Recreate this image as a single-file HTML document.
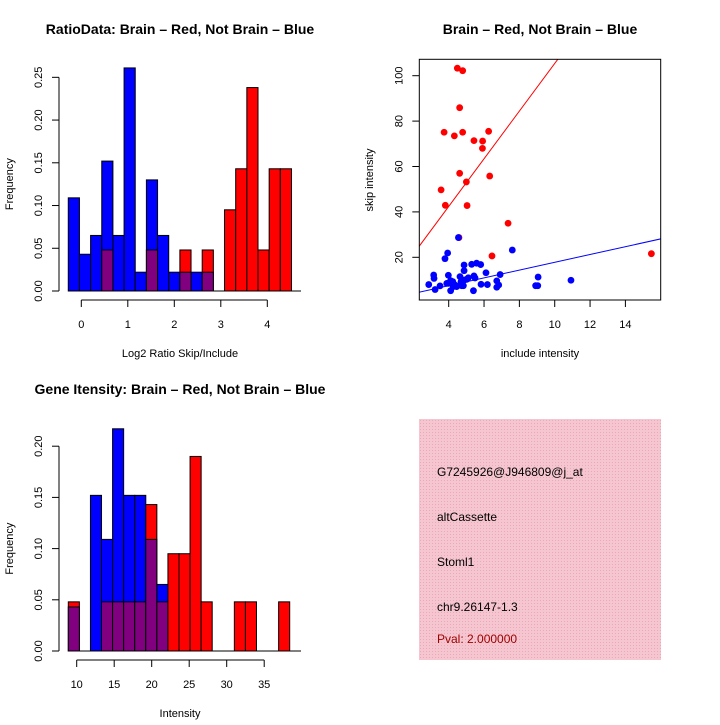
<!DOCTYPE html>
<html><head><meta charset="utf-8"><style>
body{margin:0;background:#fff}
svg text{font-family:"Liberation Sans",sans-serif;fill:#000}
</style></head><body>
<svg id="svg" width="720" height="720" viewBox="0 0 720 720" xmlns="http://www.w3.org/2000/svg">
<rect x="0" y="0" width="720" height="720" fill="#fff"/>
<text x="180" y="34" font-size="14" font-weight="bold" text-anchor="middle">RatioData: Brain – Red, Not Brain – Blue</text>
<text x="540" y="34" font-size="14" font-weight="bold" text-anchor="middle">Brain – Red, Not Brain – Blue</text>
<text x="180" y="394" font-size="14" font-weight="bold" text-anchor="middle">Gene Itensity: Brain – Red, Not Brain – Blue</text>
<g id="g1"></g>
<g id="g2"></g>
<g id="g3"></g>
<defs><pattern id="hatch" width="3" height="3" patternUnits="userSpaceOnUse"><rect width="3" height="3" fill="#f5c6d0"/><rect width="1" height="1" fill="#e8aab8"/></pattern></defs>
<rect x="419" y="419" width="242" height="241" fill="url(#hatch)"/>
<text x="437" y="476" font-size="12">G7245926@J946809@j_at</text>
<text x="437" y="521" font-size="12">altCassette</text>
<text x="437" y="566" font-size="12">Stoml1</text>
<text x="437" y="611" font-size="12">chr9.26147-1.3</text>
<text x="437" y="643" font-size="12" style="fill:#a00000">Pval: 2.000000</text>
</svg>
<script>
// ---- Ratio histogram data ----
const ratioBinStart = -0.28;
const ratioBinWidth = 0.24;
const ratioBlue = [0.109,0.043,0.065,0.152,0.065,0.261,0.022,0.130,0.065,0.022,0.022,0.022,0.022,0,0,0,0,0,0,0];
const ratioRed  = [0,0,0,0.048,0,0,0,0.048,0,0,0.048,0,0.048,0,0.095,0.143,0.238,0.048,0.143,0.143];
const ratioXTicks = [0,1,2,3,4];
const ratioYTicks = [0,0.05,0.10,0.15,0.20,0.25];
const ratioYLabels = ["0.00","0.05","0.10","0.15","0.20","0.25"];
// ---- Intensity histogram data ----
const intBinStart = 8.88;
const intBinWidth = 1.476;
const intBlue = [0.043,0,0.152,0.109,0.217,0.152,0.152,0.109,0.065,0,0,0,0,0,0,0,0,0,0,0];
const intRed  = [0.048,0,0,0.048,0.048,0.048,0.048,0.143,0.048,0.095,0.095,0.190,0.048,0,0,0.048,0.048,0,0,0.048];
const intXTicks = [10,15,20,25,30,35];
const intYTicks = [0,0.05,0.10,0.15,0.20];
const intYLabels = ["0.00","0.05","0.10","0.15","0.20"];
// ---- Scatter data ----
const redX = [4.49,4.79,4.62,3.74,4.32,4.79,5.43,5.92,6.26,5.91,4.62,3.57,5.0,3.81,5.04,6.32,7.36,4.58,6.45,15.47];
const redY = [103.3,102.2,85.9,75.1,73.5,75.1,71.4,71.2,75.5,68.0,57.0,49.7,53.2,42.9,42.8,55.8,35.0,28.7,20.6,21.6];
const blueX = [2.87,3.15,3.17,3.23,3.51,3.79,3.94,3.98,3.98,4.11,4.11,4.23,4.26,4.45,4.55,4.64,4.70,4.74,4.83,4.87,4.87,4.89,5.02,5.11,5.30,5.40,5.43,5.49,5.58,5.81,5.83,6.11,6.19,6.72,6.72,6.83,6.91,7.60,8.92,9.04,9.06,10.92,4.36,3.89];
const blueY = [8.0,12.2,10.7,5.8,7.4,19.4,21.9,12.1,8.5,9.7,5.3,9.3,7.1,7.1,28.7,11.5,9.3,7.5,7.5,16.6,14.1,10.0,10.3,11.0,16.9,5.3,11.8,10.9,17.4,16.8,8.1,13.2,8.0,9.6,6.8,7.8,12.4,23.2,7.5,7.5,11.3,9.9,7.8,8.5];
const redFit = [0.4, 10.5];
const blueFit = [0.6, 1.72];
const scatXTicks = [4,6,8,10,12,14];
const scatYTicks = [20,40,60,80,100];

const NS="http://www.w3.org/2000/svg";
function mk(parent, tag, attrs){const e=document.createElementNS(NS,tag);for(const k in attrs)e.setAttribute(k,attrs[k]);parent.appendChild(e);return e;}
function txt(parent,x,y,s,size,rot){const t=mk(parent,'text',{x:x,y:y,'font-size':size,'text-anchor':'middle'});if(rot)t.setAttribute('transform','rotate(-90 '+x+' '+y+')');t.textContent=s;return t;}

function histogram(g, cfg){
  const sx=v=>cfg.x0px+(v-cfg.x0)*cfg.xs;
  const sy=v=>cfg.y0px-v*cfg.ys;
  for(let i=0;i<cfg.blue.length;i++){
    const a=cfg.x0px+(cfg.start+i*cfg.width-cfg.x0)*cfg.xs, b=cfg.x0px+(cfg.start+(i+1)*cfg.width-cfg.x0)*cfg.xs;
    const r=cfg.red[i], bl=cfg.blue[i], mx=Math.max(r,bl), mn=Math.min(r,bl);
    if(mx>0){
      const bar=mk(g,'rect',{x:a,y:sy(mx),width:b-a,height:sy(0)-sy(mx),fill:r>bl?'#ff0000':'#0000ff',stroke:'#000','stroke-width':1});
      
      
    }
    if(mn>0){
      const ov=mk(g,'rect',{x:a,y:sy(mn),width:b-a,height:sy(0)-sy(mn),fill:'#800080',stroke:'#000','stroke-width':1});
      
      
    }
  }
  mk(g,'line',{x1:cfg.x0px-5,x2:cfg.axisRight,y1:sy(0),y2:sy(0),stroke:'#000'});
  const yax=mk(g,'g',{});
  
  
  mk(yax,'line',{x1:cfg.yAxisX,x2:cfg.yAxisX,y1:sy(0),y2:sy(cfg.yt[cfg.yt.length-1]),stroke:'#000'});
  cfg.yt.forEach((v,i)=>{mk(yax,'line',{x1:cfg.yAxisX-7,x2:cfg.yAxisX,y1:sy(v),y2:sy(v),stroke:'#000'});txt(yax,cfg.yAxisX-17,sy(v),cfg.yl[i],11,true);});
  const xax=mk(g,'g',{});
  
  
  const xt=cfg.xt;
  mk(xax,'line',{x1:sx(xt[0]),x2:sx(xt[xt.length-1]),y1:cfg.xAxisY,y2:cfg.xAxisY,stroke:'#000'});
  xt.forEach(v=>{mk(xax,'line',{x1:sx(v),x2:sx(v),y1:cfg.xAxisY,y2:cfg.xAxisY+7,stroke:'#000'});txt(xax,sx(v),cfg.xAxisY+28,String(v),11);});
  const xtitle=txt(g,180,cfg.xAxisY+57,cfg.xTitle,11);
  
  
  const ytitle=txt(g,13,(sy(0)+sy(cfg.yt[cfg.yt.length-1]))/2,'Frequency',11,true);
  
  
}
histogram(document.getElementById('g1'),{blue:ratioBlue,red:ratioRed,start:ratioBinStart,width:ratioBinWidth,x0:0,x0px:81.3,xs:46.5,y0px:291,ys:854.7,axisRight:301,yAxisX:59,xAxisY:300,xt:ratioXTicks,yt:ratioYTicks,yl:ratioYLabels,xTitle:'Log2 Ratio Skip/Include'});
histogram(document.getElementById('g3'),{blue:intBlue,red:intRed,start:intBinStart,width:intBinWidth,x0:10,x0px:76.7,xs:7.5,y0px:651,ys:1024,axisRight:301,yAxisX:59,xAxisY:660,xt:intXTicks,yt:intYTicks,yl:intYLabels,xTitle:'Intensity'});

// scatter
(function(){
  const g=document.getElementById('g2');
  const L=419.3,R=660.7,T=59.3,B=300;
  const sx=v=>448.7+(v-4)*17.67;
  const sy=v=>257.3-(v-20)*2.27;
  const clip=mk(g,'clipPath',{id:'sc'});mk(clip,'rect',{x:L,y:T,width:R-L,height:B-T});
  const lines=mk(g,'g',{'clip-path':'url(#sc)'});
  [[redFit,'#ff0000','red-fit-line'],[blueFit,'#0000ff','blue-fit-line']].forEach(f=>{
    const l=mk(lines,'line',{x1:sx(0),y1:sy(f[0][0]),x2:sx(20),y2:sy(f[0][0]+f[0][1]*20),stroke:f[1],'stroke-width':1});
    
    
  });
  redX.forEach((x,i)=>{const c=mk(g,'circle',{cx:sx(x),cy:sy(redY[i]),r:3.4,fill:'#ff0000'});
    
    });
  blueX.forEach((x,i)=>{const c=mk(g,'circle',{cx:sx(x),cy:sy(blueY[i]),r:3.4,fill:'#0000ff'});
    
    });
  mk(g,'rect',{x:L,y:T,width:R-L,height:B-T,fill:'none',stroke:'#000'});
  scatXTicks.forEach(v=>{mk(g,'line',{x1:sx(v),x2:sx(v),y1:B,y2:B+7,stroke:'#000'});txt(g,sx(v),B+28,String(v),11);});
  scatYTicks.forEach(v=>{mk(g,'line',{x1:L-7,x2:L,y1:sy(v),y2:sy(v),stroke:'#000'});txt(g,L-17,sy(v),String(v),11,true);});
  const xt=txt(g,540,357,'include intensity',11);
  
  
  const yt=txt(g,373,180,'skip intensity',11,true);
  
  
})();
</script>
</body></html>
